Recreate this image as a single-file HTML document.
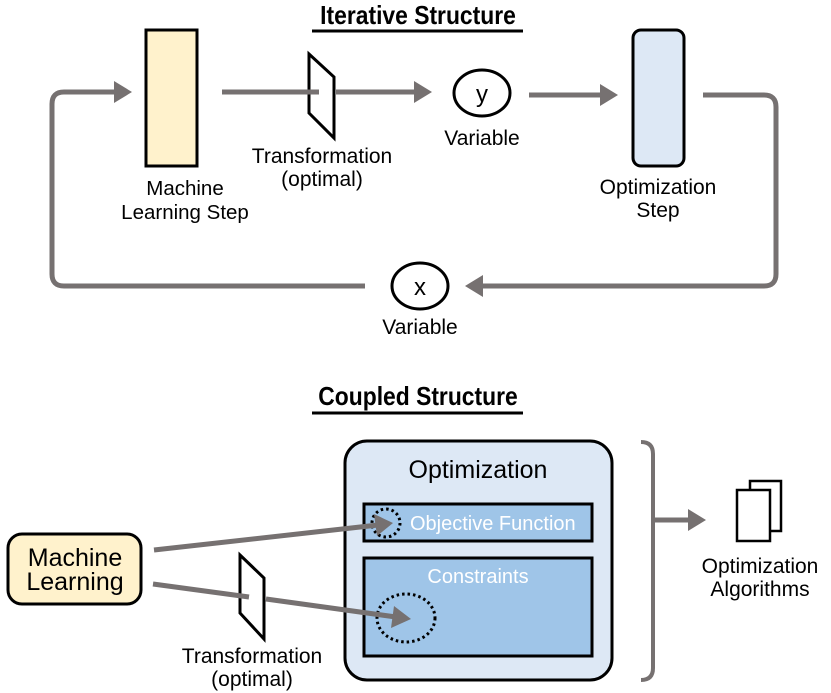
<!DOCTYPE html>
<html><head><meta charset="utf-8"><style>
html,body{margin:0;padding:0;background:#fff;}
svg{display:block;}
text{font-family:"Liberation Sans",Arial,sans-serif;}
</style></head><body>
<svg width="831" height="693" viewBox="0 0 831 693" xmlns="http://www.w3.org/2000/svg">
<text x="418" y="24" text-anchor="middle" font-size="26" font-weight="bold" transform="translate(418 0) scale(0.88 1) translate(-418 0)">Iterative Structure</text>
<line x1="312" y1="31" x2="523" y2="31" stroke="#000" stroke-width="3"/>
<text x="418" y="405" text-anchor="middle" font-size="26" font-weight="bold" transform="translate(418 0) scale(0.88 1) translate(-418 0)">Coupled Structure</text>
<line x1="312" y1="413" x2="523" y2="413" stroke="#000" stroke-width="3"/>

<g stroke="#767171" stroke-width="5" fill="none">
<path d="M365 286 H64 Q52 286 52 274 V104 Q52 92 64 92 H118"/>
<path d="M703 95 H764 Q776 95 776 107 V274 Q776 286 764 286 H482"/>
<line x1="529" y1="95" x2="602" y2="95"/>
</g>
<g fill="#767171">
<polygon points="132,92 114,81 114,103"/>
<polygon points="432,92 414,81 414,103"/>
<polygon points="618,95 600,84 600,106"/>
<polygon points="465,286 483,275 483,297"/>
</g>

<rect x="146" y="30" width="51" height="136" fill="#fff2cc" stroke="#000" stroke-width="3"/>
<polygon points="309,54 334,77 334,138 309,113" fill="#fff" stroke="#000" stroke-width="3"/>
<line x1="222" y1="92" x2="319" y2="92" stroke="#767171" stroke-width="5"/>
<line x1="336" y1="92" x2="416" y2="92" stroke="#767171" stroke-width="5"/>
<rect x="633" y="30" width="51" height="136" rx="8" fill="#dde8f5" stroke="#000" stroke-width="3"/>
<ellipse cx="482" cy="93" rx="28" ry="23" fill="#fff" stroke="#000" stroke-width="3"/>
<text x="482" y="102" text-anchor="middle" font-size="24">y</text>
<ellipse cx="420" cy="286" rx="28" ry="23" fill="#fff" stroke="#000" stroke-width="3"/>
<text x="420" y="295" text-anchor="middle" font-size="24">x</text>

<g text-anchor="middle" fill="#000">
<text x="185" y="195" font-size="20.5">Machine</text>
<text x="185" y="219" font-size="20.5">Learning Step</text>
<text x="322" y="163" font-size="21">Transformation</text>
<text x="322" y="186" font-size="21">(optimal)</text>
<text x="482" y="145" font-size="21">Variable</text>
<text x="658" y="194" font-size="21">Optimization</text>
<text x="658" y="217" font-size="21">Step</text>
<text x="420" y="334" font-size="21">Variable</text>
</g>

<rect x="345" y="441" width="267" height="239" rx="22" fill="#dde8f5" stroke="#000" stroke-width="3"/>
<text x="478" y="478" text-anchor="middle" font-size="25">Optimization</text>
<rect x="364" y="504" width="228" height="37" fill="#9fc5e8" stroke="#000" stroke-width="3"/>
<text x="410" y="530" font-size="20" fill="#fff">Objective Function</text>
<rect x="364" y="558" width="228" height="98" fill="#9fc5e8" stroke="#000" stroke-width="3"/>
<text x="478" y="583" text-anchor="middle" font-size="20" fill="#fff">Constraints</text>
<circle cx="386" cy="523" r="14" fill="none" stroke="#000" stroke-width="3" stroke-dasharray="2.5 3"/>
<ellipse cx="406" cy="618" rx="29" ry="24" fill="none" stroke="#000" stroke-width="3" stroke-dasharray="2.5 3"/>

<rect x="8" y="534" width="133" height="70" rx="14" fill="#fff2cc" stroke="#000" stroke-width="3"/>
<text x="75" y="566" text-anchor="middle" font-size="25">Machine</text>
<text x="75" y="590" text-anchor="middle" font-size="25">Learning</text>

<polygon points="240,555 264,578 264,639 240,613" fill="#fff" stroke="#000" stroke-width="3"/>
<g stroke="#767171" stroke-width="5">
<line x1="154" y1="550" x2="378" y2="525"/>
<line x1="153" y1="584" x2="249" y2="597"/>
<line x1="266" y1="599" x2="396" y2="617"/>
</g>
<g fill="#767171">
<polygon points="393,523 374,514 377,536"/>
<polygon points="411,619 394,606 391,628"/>
</g>
<text x="252" y="663" text-anchor="middle" font-size="21">Transformation</text>
<text x="252" y="686" text-anchor="middle" font-size="21">(optimal)</text>

<path d="M641 442 Q653 442 653 454 V668 Q653 680 641 680" fill="none" stroke="#767171" stroke-width="4"/>
<line x1="653" y1="520" x2="690" y2="520" stroke="#767171" stroke-width="5"/>
<polygon points="706,520 688,509 688,531" fill="#767171"/>

<rect x="750" y="481" width="31" height="50" fill="#fff" stroke="#000" stroke-width="2.5"/>
<rect x="737" y="490" width="33" height="51" fill="#fff" stroke="#000" stroke-width="2.5"/>
<text x="760" y="573" text-anchor="middle" font-size="21">Optimization</text>
<text x="760" y="596" text-anchor="middle" font-size="21">Algorithms</text>
</svg>
</body></html>
